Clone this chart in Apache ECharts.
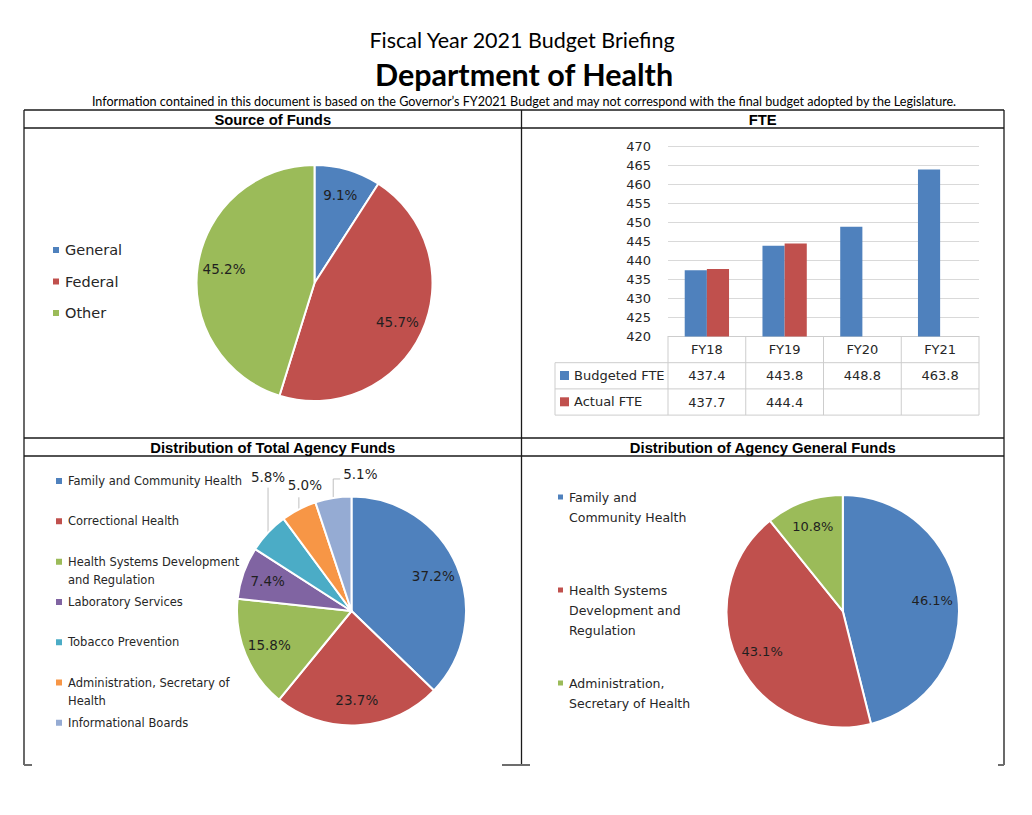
<!DOCTYPE html>
<html>
<head>
<meta charset="utf-8">
<script src="https://cdn.jsdelivr.net/npm/echarts@6/dist/echarts.min.js"></script>
<style>
html, body { margin: 0; padding: 0; background: #fff; }
#c { width: 1032px; height: 815px; }
</style>
</head>
<body>
<div id="c"></div>
<script>
// ---------------- data ----------------
const sourceNames = ['General', 'Federal', 'Other'];
const sourceValues = [9.1, 45.7, 45.2];

const fteCategories = ['FY18', 'FY19', 'FY20', 'FY21'];
const fteSeriesNames = ['Budgeted FTE', 'Actual FTE'];
const budgetedFTE = [437.4, 443.8, 448.8, 463.8];
const actualFTE = [437.7, 444.4, null, null];
const fteAxisMin = 420;
const fteAxisMax = 470;
const fteAxisStep = 5;

const totalNames = [
  'Family and Community Health',
  'Correctional Health',
  'Health Systems Development\nand Regulation',
  'Laboratory Services',
  'Tobacco Prevention',
  'Administration, Secretary of\nHealth',
  'Informational Boards'
];
const totalValues = [37.2, 23.7, 15.8, 7.4, 5.8, 5.0, 5.1];

const generalNames = [
  'Family and\nCommunity Health',
  'Health Systems\nDevelopment and\nRegulation',
  'Administration,\nSecretary of Health'
];
const generalValues = [46.1, 43.1, 10.8];

// ---------------- styles ----------------
const FONT = '"DejaVu Sans", Verdana, sans-serif';
const C = {
  blue: '#4F81BD', red: '#C0504D', green: '#9BBB59', purple: '#8064A2',
  teal: '#4BACC6', orange: '#F79646', lightBlue: '#95ABD3'
};
const TEXT = '#262626';
const GRIDLINE = '#d9d9d9';
const TABLELINE = '#cdcdcd';
const BORDER = '#1a1a1a';

const chart = echarts.init(document.getElementById('c'), null, { renderer: 'svg' });

function pieSeries(id, names, values, colors, center, r, labelFont, outside) {
  outside = outside || {};
  const base = {
    type: 'pie', center: center, startAngle: 90, clockwise: true,
    avoidLabelOverlap: false, animation: false, emphasis: { disabled: true }
  };
  const main = Object.assign({}, base, {
    name: id, radius: [0, r],
    itemStyle: { borderColor: '#fff', borderWidth: 2 },
    label: { show: false }, labelLine: { show: false },
    data: names.map((n, i) => ({ name: n, value: values[i], itemStyle: { color: colors[i] } }))
  });
  const labels = Object.assign({}, base, {
    name: id + ' labels', radius: [r * 0.5, r], silent: true, legendHoverLink: false,
    itemStyle: { color: 'rgba(0,0,0,0)', borderWidth: 0 },
    label: {
      show: true, position: 'inside',
      formatter: p => p.value.toFixed(1) + '%',
      fontFamily: FONT, fontSize: labelFont, color: '#1f1f1f'
    },
    labelLine: { show: false },
    labelLayout: function (params) {
      const s = outside[params.dataIndex];
      const pts = params.labelLinePoints;
      if (!s || !pts) return {};
      const e = pts[0];
      const bend = [e[0], e[1] - s.rise];
      const line = s.run ? [e, bend, [bend[0] + s.run, bend[1]]] : [e, bend];
      return { x: e[0] + s.dx, y: e[1] - s.dy, align: s.align, verticalAlign: 'middle', labelLinePoints: line };
    },
    data: names.map((n, i) => {
      const d = { name: n, value: values[i] };
      if (outside[i]) {
        d.label = { position: 'outside' };
        d.labelLine = { show: true, length: 8, length2: 0, lineStyle: { color: '#bfbfbf', width: 1 } };
      }
      return d;
    })
  });
  return [main, labels];
}

function stackedLegendFormatter(maxLines) {
  return function (name) {
    const n = name.split('\n').length;
    const above = maxLines - 1;
    const below = maxLines - n;
    return '\n'.repeat(above) + name + '\n'.repeat(below);
  };
}

const totalCallouts = {
  4: { rise: 45, dx: 0, dy: 56, align: 'center' },
  5: { rise: 12, dx: 6, dy: 24, align: 'center' },
  6: { rise: 19, run: 7, dx: 10, dy: 24, align: 'left' }
};

const series = []
  .concat(pieSeries('Source of Funds', sourceNames, sourceValues, [C.blue, C.red, C.green], [314.5, 283], 118, 13.5))
  .concat(pieSeries('Distribution of Total Agency Funds', totalNames, totalValues,
    [C.blue, C.red, C.green, C.purple, C.teal, C.orange, C.lightBlue], [351.5, 611], 114.5, 13.5, totalCallouts))
  .concat(pieSeries('Distribution of Agency General Funds', generalNames, generalValues,
    [C.blue, C.red, C.green], [842.8, 611.2], 116.2, 13));

series.push({
  type: 'bar', name: fteSeriesNames[0], data: budgetedFTE, xAxisIndex: 0, yAxisIndex: 0,
  itemStyle: { color: C.blue }, barGap: '0%', barCategoryGap: '43%', animation: false
});
series.push({
  type: 'bar', name: fteSeriesNames[1], data: actualFTE, xAxisIndex: 0, yAxisIndex: 0,
  itemStyle: { color: C.red }, barGap: '0%', barCategoryGap: '43%', animation: false
});

const option = {
  animation: false,
  textStyle: { fontFamily: FONT },
  grid: { left: 668, right: 53, top: 146, bottom: 478.5, containLabel: false },
  xAxis: {
    type: 'category', data: fteCategories,
    axisLine: { lineStyle: { color: TABLELINE } },
    axisTick: { show: false },
    axisLabel: { fontFamily: FONT, fontSize: 13, color: TEXT, margin: 6 }
  },
  yAxis: {
    type: 'value', min: fteAxisMin, max: fteAxisMax, interval: fteAxisStep,
    axisLine: { show: false }, axisTick: { show: false },
    axisLabel: { fontFamily: FONT, fontSize: 13, color: TEXT, margin: 17 },
    splitLine: { lineStyle: { color: GRIDLINE, width: 1 } }
  },
  legend: [
    {
      data: sourceNames, orient: 'vertical', left: 51, top: 241, padding: 0,
      itemWidth: 8, itemHeight: 8, itemGap: 13.5, icon: 'rect',
      textStyle: { fontFamily: FONT, fontSize: 14.5, lineHeight: 18, color: TEXT }
    },
    {
      data: fteSeriesNames, orient: 'vertical', left: 560, top: 367.5, padding: 0,
      itemWidth: 9, itemHeight: 9, itemGap: 10.3, icon: 'rect',
      textStyle: { fontFamily: FONT, fontSize: 13, lineHeight: 16, color: TEXT }
    },
    {
      data: totalNames, orient: 'vertical', left: 54, top: 453.3, padding: 0,
      itemWidth: 8, itemHeight: 8, itemGap: -15.2, icon: 'rect',
      formatter: stackedLegendFormatter(2),
      textStyle: { fontFamily: FONT, fontSize: 11.5, lineHeight: 18.5, color: TEXT }
    },
    {
      data: generalNames, orient: 'vertical', left: 556, top: 447, padding: 0,
      itemWidth: 7, itemHeight: 7, itemGap: -7, icon: 'rect',
      formatter: stackedLegendFormatter(3),
      textStyle: { fontFamily: FONT, fontSize: 12.5, lineHeight: 20, color: TEXT }
    }
  ],
  series: series
};

chart.setOption(option);

// ---------------- frame, headings and the FTE data table ----------------
function line(x1, y1, x2, y2, color, w) {
  return { type: 'line', silent: true, z: 50,
    shape: { x1: x1, y1: y1, x2: x2, y2: y2 },
    style: { stroke: color, lineWidth: w || 1 } };
}
function text(str, x, y, font, fill, align) {
  return { type: 'text', silent: true, z: 60, x: x, y: y,
    style: { text: str, font: font, fill: fill || '#000',
      align: align || 'center', verticalAlign: 'middle',
      textAlign: align || 'center', textVerticalAlign: 'middle' } };
}

const L = 24, R = 1004, MID = 521.5, TOP = 110, BOT = 765;
const graphics = [
  text('Fiscal Year 2021 Budget Briefing', 522, 40, '21.5px Lato, sans-serif', '#000'),
  text('Department of Health', 524, 74, 'bold 30.5px Lato, sans-serif', '#000'),
  text('Information contained in this document is based on the Governor\u2019s FY2021 Budget and may not correspond with the final budget adopted by the Legislature.',
    524, 101, '12.6px Lato, sans-serif', '#000'),
  line(L, TOP, R, TOP, BORDER, 1.3),
  line(L, 128, R, 128, BORDER, 1.3),
  line(L, 438, R, 438, BORDER, 1.3),
  line(L, 456, R, 456, BORDER, 1.3),
  line(L, TOP, L, BOT, BORDER, 1.3),
  line(R, TOP, R, BOT, BORDER, 1.3),
  line(MID, TOP, MID, BOT, BORDER, 1.3),
  line(L, BOT, L + 8, BOT, '#6d6d6d', 2),
  line(502, BOT, 530, BOT, '#6d6d6d', 2),
  line(R - 6, BOT, R, BOT, '#6d6d6d', 2),
  text('Source of Funds', (L + MID) / 2, 119.5, 'bold 14.8px "Liberation Sans", Arial, sans-serif'),
  text('FTE', (MID + R) / 2, 119.5, 'bold 14.8px "Liberation Sans", Arial, sans-serif'),
  text('Distribution of Total Agency Funds', (L + MID) / 2, 447.5, 'bold 14.8px "Liberation Sans", Arial, sans-serif'),
  text('Distribution of Agency General Funds', (MID + R) / 2, 447.5, 'bold 14.8px "Liberation Sans", Arial, sans-serif')
];

// table geometry derived from the bar chart's own axes
const centers = fteCategories.map(c => chart.convertToPixel({ xAxisIndex: 0 }, c));
const band = centers[1] - centers[0];
const axisY = chart.convertToPixel({ yAxisIndex: 0 }, fteAxisMin);
const rowH = 26.2;
const legendColLeft = 555;
const colEdges = centers.map(c => c - band / 2).concat([centers[centers.length - 1] + band / 2]);
const tableRight = colEdges[colEdges.length - 1];
colEdges.forEach(x => graphics.push(line(x, axisY, x, axisY + 3 * rowH, TABLELINE, 1)));
for (let r = 1; r <= 3; r++) {
  graphics.push(line(legendColLeft, axisY + r * rowH, tableRight, axisY + r * rowH, TABLELINE, 1));
}
graphics.push(line(legendColLeft, axisY + rowH, legendColLeft, axisY + 3 * rowH, TABLELINE, 1));
[budgetedFTE, actualFTE].forEach((vals, r) => {
  vals.forEach((v, i) => {
    if (v == null) return;
    graphics.push(text(v.toFixed(1), centers[i], axisY + (r + 1.5) * rowH, '13px ' + FONT, TEXT));
  });
});

chart.setOption({ graphic: { elements: graphics } });
</script>
</body>
</html>
